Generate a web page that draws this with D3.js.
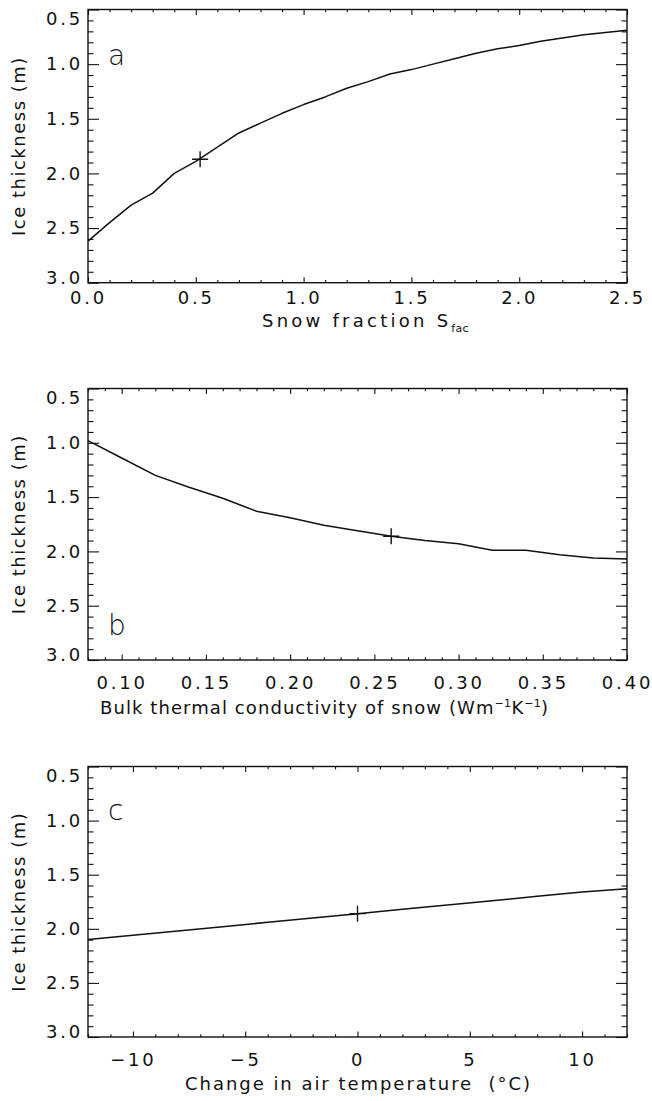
<!DOCTYPE html>
<html><head><meta charset="utf-8">
<script src="https://cdn.jsdelivr.net/npm/d3@7"></script>
<style>
html,body{margin:0;padding:0;background:#fff;}
svg{display:block;}
text{font-family:"DejaVu Sans",sans-serif;fill:#111;}
</style></head><body>
<svg id="chart" width="652" height="1101"></svg>
<script>
// ---- shared y axis ----
const yTickValues = [0.5, 1.0, 1.5, 2.0, 2.5, 3.0];
const yTickLabels = ["0.5", "1.0", "1.5", "2.0", "2.5", "3.0"];
const yTitle = "Ice thickness (m)";

// ---- panel a: snow fraction ----
const snowFraction = [0.0,0.1,0.2,0.3,0.4,0.5,0.6,0.7,0.8,0.9,1.0,1.1,1.2,1.3,1.4,1.5,1.6,1.7,1.8,1.9,2.0,2.1,2.2,2.3,2.4,2.5];
const iceThicknessA = [2.62,2.45,2.29,2.18,2.00,1.89,1.76,1.63,1.54,1.45,1.37,1.30,1.22,1.16,1.09,1.05,1.00,0.95,0.90,0.86,0.83,0.79,0.76,0.73,0.71,0.69];
const markerA = [0.52, 1.87];
const xTicksA = [0.0, 0.5, 1.0, 1.5, 2.0, 2.5];
const xTickLabelsA = ["0.0", "0.5", "1.0", "1.5", "2.0", "2.5"];

// ---- panel b: thermal conductivity ----
const conductivity = [0.08,0.10,0.12,0.14,0.16,0.18,0.20,0.22,0.24,0.26,0.28,0.30,0.32,0.34,0.36,0.38,0.40];
const iceThicknessB = [0.98,1.14,1.30,1.41,1.51,1.63,1.69,1.76,1.81,1.86,1.90,1.93,1.99,1.99,2.03,2.06,2.07];
const markerB = [0.26, 1.86];
const xTicksB = [0.10, 0.15, 0.20, 0.25, 0.30, 0.35, 0.40];
const xTickLabelsB = ["0.10", "0.15", "0.20", "0.25", "0.30", "0.35", "0.40"];

// ---- panel c: air temperature change ----
const tempChange = [-12,-10,-8,-6,-4,-2,0,2,4,6,8,10,12];
const iceThicknessC = [2.10,2.06,2.02,1.98,1.94,1.90,1.86,1.82,1.78,1.74,1.70,1.66,1.63];
const markerC = [0, 1.86];
const xTicksC = [-10, -5, 0, 5, 10];
const xTickLabelsC = ["\u221210", "\u22125", "0", "5", "10"];

const svg = d3.select("#chart");
const L = 88, R = 627;

// spread the main (non sub/superscript) characters so the title spans `target` px
function fitWidth(sel, target) {
  const node = sel.node();
  const w0 = node.getComputedTextLength();
  let n = 0;
  sel.selectAll("tspan").each(function () { if (!this.classList.contains("small")) n += this.textContent.length; });
  if (n === 0) n = node.textContent.length;
  sel.style("letter-spacing", ((target - w0) / n) + "px");
  sel.selectAll("tspan.small").style("letter-spacing", "0.3px");
}

function addTspans(t, parts) {
  parts.forEach(([txt, kind]) => {
    const s = t.append("tspan").text(txt);
    if (kind === "sup") s.attr("class", "small").attr("font-size", 11).attr("dy", -7);
    else if (kind === "sub") s.attr("class", "small").attr("font-size", 11).attr("dy", 5);
    else if (kind === "back") s.attr("dy", 7);
  });
}

const panels = [
  {xs: snowFraction, ys: iceThicknessA, xDomain: [0, 2.5], xTicks: xTicksA, xLabels: xTickLabelsA, minorStep: 0.1,
   marker: markerA, top: 9.5, bottom: 282.7, letter: "a", letterDy: 55, labelPad: 9, titleDy: 44,
   title: [["Snow fraction S", ""], ["fac", "sub"]], titleX: 262, titleW: 206},
  {xs: conductivity, ys: iceThicknessB, xDomain: [0.08, 0.40], xTicks: xTicksB, xLabels: xTickLabelsB, minorStep: 0.01,
   marker: markerB, top: 388.5, bottom: 660, letter: "b", letterDy: 246, labelPad: 16, titleDy: 54,
   title: [["Bulk thermal conductivity of snow (Wm", ""], ["\u22121", "sup"], ["K", "back"], ["\u22121", "sup"], [")", "back"]],
   titleX: 100, titleW: 448},
  {xs: tempChange, ys: iceThicknessC, xDomain: [-12, 12], xTicks: xTicksC, xLabels: xTickLabelsC, minorStep: 1,
   marker: markerC, top: 766.5, bottom: 1037, letter: "c", letterDy: 53, labelPad: 16, titleDy: 53,
   title: [["Change in air temperature\u00a0\u00a0(\u00b0C)", ""]], titleX: 185, titleW: 347}
];

function styleAxis(g) {
  g.select(".domain").remove();
  g.selectAll("line").attr("stroke", "#111").attr("stroke-width", 1.1);
  g.attr("font-family", "DejaVu Sans, sans-serif").attr("font-size", 18);
  g.selectAll("text").attr("fill", "#111").style("letter-spacing", "2.8px");
}

panels.forEach(p => {
  const x = d3.scaleLinear().domain(p.xDomain).range([L, R]);
  const y = d3.scaleLinear().domain([0.5, 3.0]).range([p.top, p.bottom]);
  const g = svg.append("g");
  const eps = 1e-9;
  const xMinor = d3.range(p.xDomain[0], p.xDomain[1] + eps, p.minorStep)
      .filter(v => !p.xTicks.some(t => Math.abs(t - v) < p.minorStep / 10));
  const yMinor = d3.range(0.5, 3.0 + eps, 0.1)
      .filter(v => !yTickValues.some(t => Math.abs(t - v) < 0.01));

  // bottom
  g.append("g").attr("transform", `translate(0,${p.bottom})`)
    .call(d3.axisBottom(x).tickValues(xMinor).tickSize(-2.8).tickFormat("")).call(styleAxis);
  g.append("g").attr("transform", `translate(0,${p.bottom})`)
    .call(d3.axisBottom(x).tickValues(p.xTicks).tickSize(-5.5).tickPadding(p.labelPad).tickFormat((d, i) => p.xLabels[i]))
    .call(styleAxis);
  // top
  g.append("g").attr("transform", `translate(0,${p.top})`)
    .call(d3.axisTop(x).tickValues(xMinor).tickSize(-2.8).tickFormat("")).call(styleAxis);
  g.append("g").attr("transform", `translate(0,${p.top})`)
    .call(d3.axisTop(x).tickValues(p.xTicks).tickSize(-5.5).tickFormat("")).call(styleAxis);
  // left
  g.append("g").attr("transform", `translate(${L},0)`)
    .call(d3.axisLeft(y).tickValues(yMinor).tickSize(-5.5).tickFormat("")).call(styleAxis);
  const ly = g.append("g").attr("transform", `translate(${L},0)`)
    .call(d3.axisLeft(y).tickValues(yTickValues).tickSize(-11).tickPadding(5).tickFormat((d, i) => yTickLabels[i]))
    .call(styleAxis);
  ly.selectAll(".tick text").attr("y", d => d === 0.5 ? 9 : (d === 3.0 ? -5 : 0));
  // right
  g.append("g").attr("transform", `translate(${R},0)`)
    .call(d3.axisRight(y).tickValues(yMinor).tickSize(-5.5).tickFormat("")).call(styleAxis);
  g.append("g").attr("transform", `translate(${R},0)`)
    .call(d3.axisRight(y).tickValues(yTickValues).tickSize(-11).tickFormat("")).call(styleAxis);

  // frame
  g.append("rect").attr("x", L).attr("y", p.top).attr("width", R - L).attr("height", p.bottom - p.top)
    .attr("fill", "none").attr("stroke", "#111").attr("stroke-width", 1.4);

  // curve
  const line = d3.line().x((d, i) => x(p.xs[i])).y(d => y(d));
  g.append("path").datum(p.ys).attr("d", line).attr("fill", "none")
    .attr("stroke", "#111").attr("stroke-width", 1.5).attr("stroke-linejoin", "round");

  // marker (+)
  g.append("path")
    .attr("transform", `translate(${x(p.marker[0])},${y(p.marker[1])})`)
    .attr("d", "M-8,0H8M0,-8V8").attr("stroke", "#111").attr("stroke-width", 1.4).attr("fill", "none");

  // panel letter
  g.append("text").attr("x", 108).attr("y", p.top + p.letterDy)
    .attr("font-size", 28).style("font-weight", 300).text(p.letter);

  // x title
  const xt = g.append("text").attr("x", p.titleX).attr("y", p.bottom + p.titleDy).attr("font-size", 18);
  addTspans(xt, p.title);
  fitWidth(xt, p.titleW);

  // y title
  const yt = g.append("text").attr("transform", `translate(25,${(p.top + p.bottom) / 2}) rotate(-90)`)
    .attr("text-anchor", "middle").attr("font-size", 18).text(yTitle);
  fitWidth(yt, 180);
});
</script>
</body></html>
